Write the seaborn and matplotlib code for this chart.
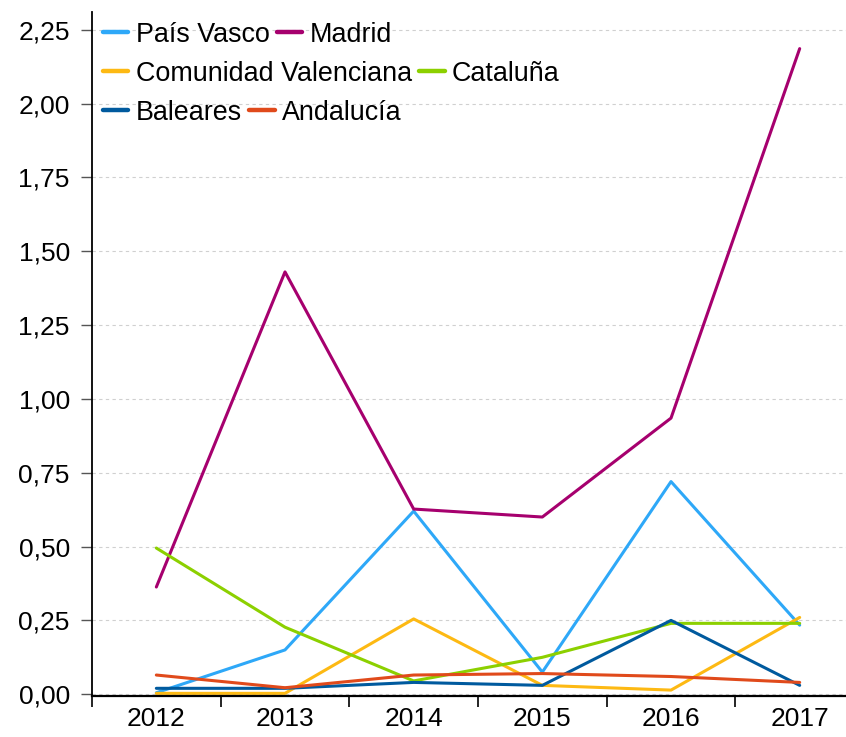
import numpy as np
import pandas as pd
import matplotlib
matplotlib.use("Agg")
import matplotlib.pyplot as plt
from matplotlib.lines import Line2D
from matplotlib.legend import Legend
import seaborn as sns

# ---------------------------------------------------------
# Data
# ---------------------------------------------------------
years = ["2012", "2013", "2014", "2015", "2016", "2017"]
pais_vasco = [0.005, 0.15, 0.62, 0.075, 0.72, 0.234]
madrid = [0.363, 1.43, 0.627, 0.60, 0.935, 2.186]
com_valenciana = [0.003, 0.003, 0.255, 0.03, 0.014, 0.26]
cataluna = [0.495, 0.227, 0.045, 0.125, 0.24, 0.24]
baleares = [0.02, 0.02, 0.04, 0.03, 0.25, 0.03]
andalucia = [0.065, 0.022, 0.065, 0.07, 0.06, 0.04]

regions = ["País Vasco", "Madrid", "Comunidad Valenciana", "Cataluña", "Baleares", "Andalucía"]
series = [pais_vasco, madrid, com_valenciana, cataluna, baleares, andalucia]
colors = ["#2EA8F8", "#A6006E", "#FDB913", "#8CD000", "#005A9E", "#E04A1B"]
y_ticks = [0.0, 0.25, 0.5, 0.75, 1.0, 1.25, 1.5, 1.75, 2.0, 2.25]

rows = []
for name, vals in zip(regions, series):
    for yr, v in zip(years, vals):
        rows.append({"Year": yr, "Value": v, "Region": name})
df = pd.DataFrame(rows)

# ---------------------------------------------------------
# Plot
# ---------------------------------------------------------
sns.set_style("ticks")
plt.rcParams["font.family"] = ["Liberation Sans", "DejaVu Sans"]
plt.rcParams["text.color"] = "black"
plt.rcParams["xtick.color"] = "black"
plt.rcParams["ytick.color"] = "black"

fig = plt.figure(figsize=(8.46, 7.37), dpi=100)
ax = fig.add_axes([92 / 846, 41 / 737, 754 / 846, 684 / 737])

palette = dict(zip(regions, colors))
sns.lineplot(data=df, x="Year", y="Value", hue="Region", palette=palette,
             hue_order=regions, linewidth=2.2, legend=False, ax=ax, sort=False)

ax.set_xlim(-0.5, 5.36)
ax.set_ylim(-0.006, 2.31)
ax.set_yticks(y_ticks)
ax.set_yticklabels([f"{t:.2f}".replace(".", ",") for t in y_ticks])
ax.set_xticks(range(len(years)))
ax.set_xticklabels(years)
ax.set_xticks(np.arange(-0.5, len(years) - 0.5, 1.0), minor=True)
ax.tick_params(axis="x", which="major", length=0, labelsize=19, pad=8,
               labelcolor="black")
ax.tick_params(axis="x", which="minor", length=8, width=1.2, color="black", direction="out")
ax.tick_params(axis="y", which="major", length=8, width=1.0, color="#555555",
               labelsize=19, pad=8, labelcolor="black")
ax.set_xlabel("")
ax.set_ylabel("")

ax.yaxis.grid(True, linestyle=(0, (3, 3)), color="#d0d0d0", linewidth=0.8)
ax.set_axisbelow(True)

sns.despine(ax=ax, top=True, right=True)
ax.spines["left"].set_linewidth(1.3)
ax.spines["bottom"].set_linewidth(1.6)
ax.spines["left"].set_color("black")
ax.spines["bottom"].set_color("black")

# Legend laid out row by row (flow layout like the original)
handles = [Line2D([0], [0], color=c, linewidth=3.2) for c in colors]
legend_rows = [(0, 1), (2, 3), (4, 5)]
row_tops = [1.0 + 1 / 684, 1.0 - 38 / 684, 1.0 - 77 / 684]
for (i, j), top in zip(legend_rows, row_tops):
    leg = Legend(ax, [handles[i], handles[j]], [regions[i], regions[j]],
                 loc="upper left", bbox_to_anchor=(0.0, top), ncol=2,
                 frameon=False, fontsize=19.4, handlelength=0.95,
                 handletextpad=0.27, columnspacing=0.27, borderpad=0.0,
                 borderaxespad=0.4)
    for t in leg.get_texts():
        t.set_color("black")
    ax.add_artist(leg)

fig.savefig("out.png", dpi=100)
